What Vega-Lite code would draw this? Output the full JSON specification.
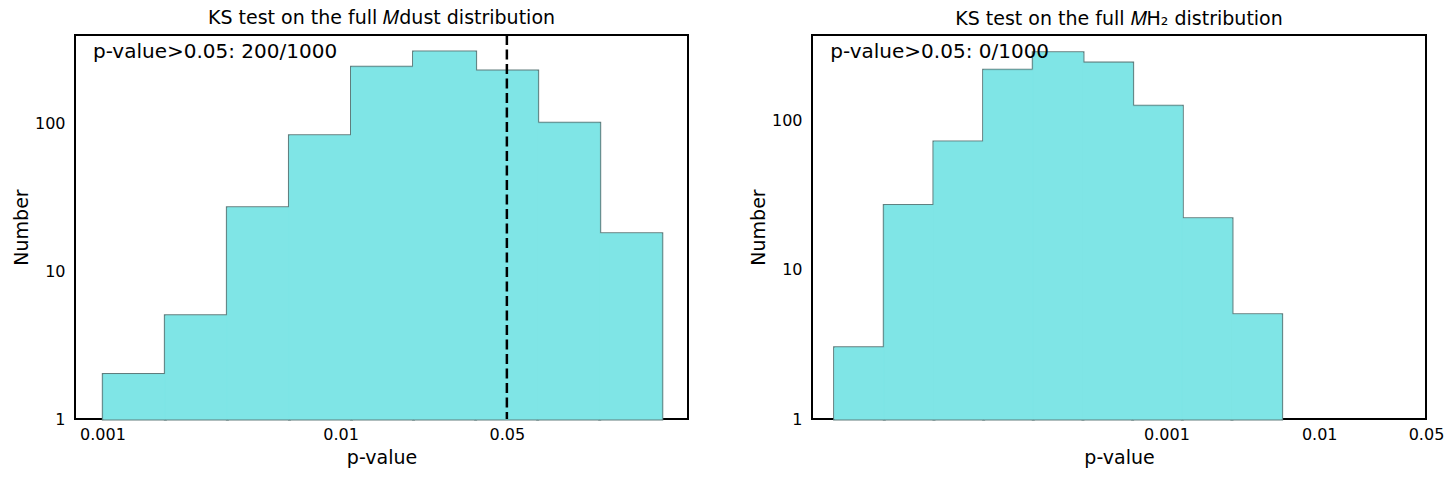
{
  "$schema": "https://vega.github.io/schema/vega-lite/v6.json",
  "padding": {"left": 11, "top": 7, "right": 5, "bottom": 5},
  "background": "white",
  "config": {
    "font": "DejaVu Sans",
    "view": {"stroke": "black", "strokeWidth": 2},
    "axis": {"ticks": false, "domain": false, "grid": false, "labelFontSize": 16, "labelColor": "black", "titleFontSize": 19, "titleFontWeight": "normal", "titleColor": "black", "labelFlush": false},
    "title": {"fontSize": 19, "fontWeight": "normal", "color": "black", "offset": 6},
    "concat": {"spacing": 59}
  },
  "datasets": {
    "dust": [
      {"p_lo": 0.0010079, "p_hi": 0.0018371, "count": 2},
      {"p_lo": 0.0018371, "p_hi": 0.0033475, "count": 5},
      {"p_lo": 0.0033475, "p_hi": 0.0061024, "count": 27},
      {"p_lo": 0.0061024, "p_hi": 0.011123, "count": 83},
      {"p_lo": 0.011123, "p_hi": 0.020273, "count": 242},
      {"p_lo": 0.020273, "p_hi": 0.036949, "count": 307},
      {"p_lo": 0.036949, "p_hi": 0.067345, "count": 228},
      {"p_lo": 0.067345, "p_hi": 0.12274, "count": 101},
      {"p_lo": 0.12274, "p_hi": 0.22377, "count": 18}
    ],
    "h2": [
      {"p_lo": 6.7298e-6, "p_hi": 1.4229e-5, "count": 3},
      {"p_lo": 1.4229e-5, "p_hi": 3.0083e-5, "count": 27},
      {"p_lo": 3.0083e-5, "p_hi": 6.3593e-5, "count": 72},
      {"p_lo": 6.3593e-5, "p_hi": 1.3441e-4, "count": 218},
      {"p_lo": 1.3441e-4, "p_hi": 2.8418e-4, "count": 285},
      {"p_lo": 2.8418e-4, "p_hi": 6.0076e-4, "count": 243},
      {"p_lo": 6.0076e-4, "p_hi": 1.27e-3, "count": 125},
      {"p_lo": 1.27e-3, "p_hi": 2.6848e-3, "count": 22},
      {"p_lo": 2.6848e-3, "p_hi": 5.6754e-3, "count": 5}
    ]
  },
  "hconcat": [
    {
      "width": 613,
      "height": 384,
      "title": "KS test on the full 𝑀dust distribution",
      "layer": [
        {
          "data": {"name": "dust"},
          "mark": {"type": "rect", "fill": "#7fe5e6", "stroke": "#607d7d", "strokeWidth": 3},
          "encoding": {
            "x": {"field": "p_lo", "type": "quantitative", "scale": {"type": "log", "domain": [0.0007664, 0.2884], "nice": false}, "axis": {"title": "p-value", "values": [0.001, 0.01, 0.05], "format": "~g", "labelPadding": 7, "titlePadding": 6}},
            "x2": {"field": "p_hi"},
            "y": {"field": "count", "type": "quantitative", "scale": {"type": "log", "domain": [1, 400], "nice": false}, "axis": {"title": "Number", "values": [1, 10, 100], "format": "~g", "labelPadding": 10, "titlePadding": 3}},
            "y2": {"datum": 1}
          }
        },
        {
          "data": {"name": "dust"},
          "mark": {"type": "rect", "fill": "#7fe5e6", "stroke": "#7fe5e6", "strokeWidth": 1},
          "encoding": {
            "x": {"field": "p_lo", "type": "quantitative"},
            "x2": {"field": "p_hi"},
            "y": {"field": "count", "type": "quantitative"},
            "y2": {"datum": 1}
          }
        },
        {
          "data": {"values": [{}]},
          "mark": {"type": "rule", "color": "black", "strokeWidth": 2.5, "strokeDash": [10, 4.5]},
          "encoding": {"x": {"datum": 0.05}}
        },
        {
          "data": {"values": [{}]},
          "mark": {"type": "text", "align": "left", "baseline": "alphabetic", "fontSize": 20, "color": "black"},
          "encoding": {"x": {"datum": 0.000912}, "y": {"datum": 279}, "text": {"value": "p-value>0.05: 200/1000"}}
        }
      ]
    },
    {
      "width": 614,
      "height": 384,
      "title": "KS test on the full 𝑀H₂ distribution",
      "layer": [
        {
          "data": {"name": "h2"},
          "mark": {"type": "rect", "fill": "#7fe5e6", "stroke": "#607d7d", "strokeWidth": 3},
          "encoding": {
            "x": {"field": "p_lo", "type": "quantitative", "scale": {"type": "log", "domain": [4.7863e-6, 0.05], "nice": false}, "axis": {"title": "p-value", "values": [0.001, 0.01, 0.05], "format": "~g", "labelPadding": 7, "titlePadding": 6}},
            "x2": {"field": "p_hi"},
            "y": {"field": "count", "type": "quantitative", "scale": {"type": "log", "domain": [1, 375], "nice": false}, "axis": {"title": "Number", "values": [1, 10, 100], "format": "~g", "labelPadding": 10, "titlePadding": 3}},
            "y2": {"datum": 1}
          }
        },
        {
          "data": {"name": "h2"},
          "mark": {"type": "rect", "fill": "#7fe5e6", "stroke": "#7fe5e6", "strokeWidth": 1},
          "encoding": {
            "x": {"field": "p_lo", "type": "quantitative"},
            "x2": {"field": "p_hi"},
            "y": {"field": "count", "type": "quantitative"},
            "y2": {"datum": 1}
          }
        },
        {
          "data": {"values": [{}]},
          "mark": {"type": "text", "align": "left", "baseline": "alphabetic", "fontSize": 20, "color": "black"},
          "encoding": {"x": {"datum": 6.31e-6}, "y": {"datum": 264}, "text": {"value": "p-value>0.05: 0/1000"}}
        }
      ]
    }
  ]
}
